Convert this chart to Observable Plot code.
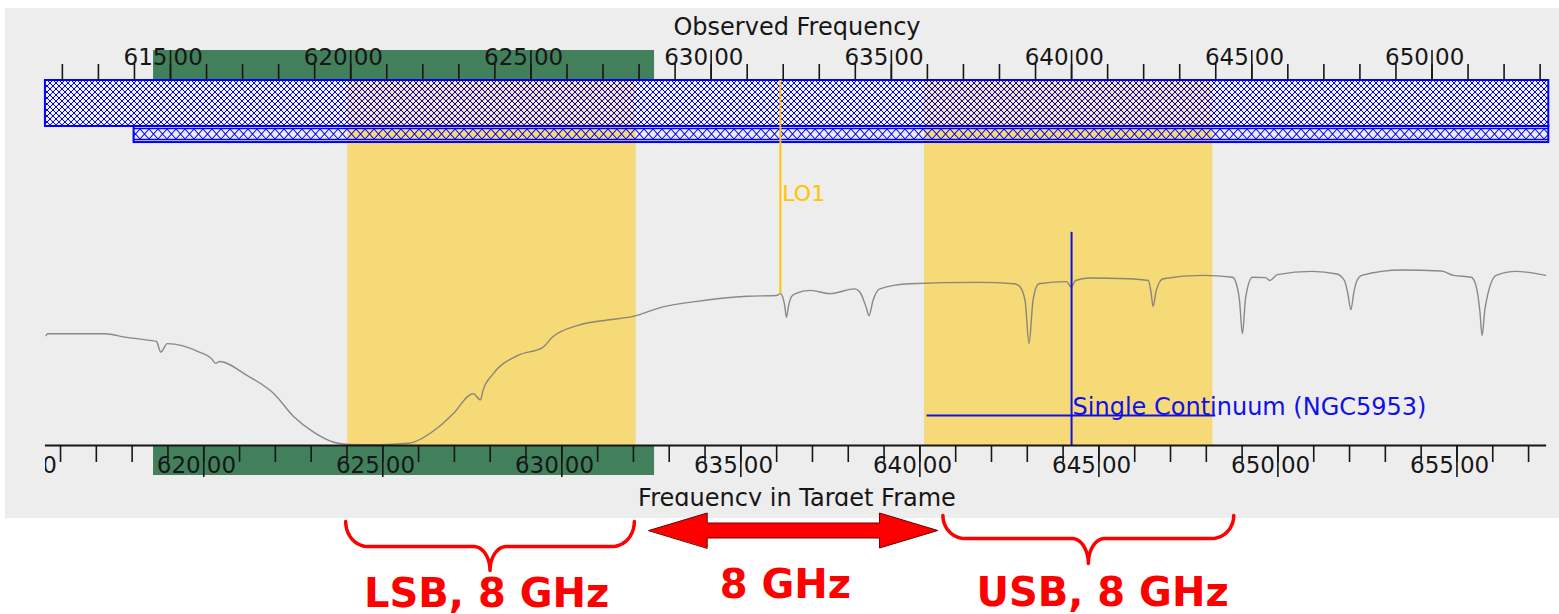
<!DOCTYPE html>
<html>
<head>
<meta charset="utf-8">
<script src="https://cdn.jsdelivr.net/npm/d3@7"></script>
<script src="https://cdn.jsdelivr.net/npm/@observablehq/plot@0.6"></script>
<style>
html, body { margin: 0; padding: 0; background: #ffffff; }
body { width: 1559px; height: 614px; overflow: hidden; position: relative; }
#panel { position: absolute; left: 5px; top: 8px; width: 1554px; height: 510px; background: #ededed; }
#notes { position: absolute; left: 0; top: 518px; width: 1559px; height: 96px; }
#panel svg, #notes svg { display: block; overflow: visible; }
</style>
</head>
<body>
<div id="panel"></div>
<div id="notes"></div>
<script>
// ---------------- data ----------------
// atmospheric transmission vs observed frequency (GHz)
const freqGHz = [611.55, 611.59, 613.18, 613.73, 614.43, 614.61, 614.73, 614.91, 615.80, 616.14,
  616.25, 616.36, 617.12, 617.87, 618.43, 618.98, 619.53, 619.95, 620.83, 621.60,
  622.43, 622.84, 623.40, 623.60, 623.67, 623.95, 624.64, 625.33, 625.60, 626.30,
  627.13, 627.81, 628.64, 629.61, 630.99, 631.81, 631.93, 631.98, 632.04, 632.09,
  632.15, 632.23, 632.34, 632.75, 633.30, 633.99, 634.13, 634.30, 634.38, 634.49,
  634.68, 635.51, 637.44, 638.40, 638.54, 638.71, 638.82, 638.93, 639.09, 639.86,
  639.99, 640.11, 640.47, 641.57, 642.13, 642.21, 642.26, 642.35, 642.54, 643.64,
  644.47, 644.54, 644.66, 644.74, 644.83, 645.02, 645.38, 645.50, 645.71, 646.67,
  647.36, 647.57, 647.66, 647.75, 647.83, 647.92, 648.05, 649.16, 650.26, 650.60,
  651.09, 651.22, 651.33, 651.39, 651.47, 651.78, 652.33, 653.15];
const transmission = [0.301, 0.306, 0.306, 0.297, 0.288, 0.285, 0.256, 0.279, 0.256, 0.238,
  0.225, 0.230, 0.192, 0.142, 0.078, 0.036, 0.009, 0.003, 0.002, 0.006,
  0.050, 0.087, 0.142, 0.125, 0.151, 0.196, 0.247, 0.269, 0.297, 0.329,
  0.344, 0.353, 0.379, 0.395, 0.409, 0.411, 0.416, 0.408, 0.384, 0.351,
  0.384, 0.408, 0.416, 0.425, 0.416, 0.429, 0.420, 0.379, 0.356, 0.397,
  0.429, 0.443, 0.447, 0.443, 0.438, 0.397, 0.279, 0.397, 0.443, 0.449,
  0.434, 0.452, 0.459, 0.457, 0.452, 0.416, 0.381, 0.425, 0.457, 0.466,
  0.461, 0.452, 0.397, 0.306, 0.406, 0.461, 0.460, 0.452, 0.468, 0.477,
  0.470, 0.452, 0.419, 0.372, 0.419, 0.452, 0.466, 0.481, 0.478, 0.466,
  0.461, 0.438, 0.366, 0.301, 0.375, 0.466, 0.477, 0.466];

const loGHz = 631.92;
const sidebandNames = ["LSB", "USB"];
const sidebandStartGHz = [619.92, 635.92];
const sidebandEndGHz = [627.92, 643.92];

const receiverStartGHz = 614.53;
const receiverEndGHz = 628.43;

const coverageStartGHz = [611.53, 613.99];
const coverageEndGHz = [653.24, 653.24];

const continuumGHz = 640.0;
const continuumLabel = "Single Continuum (NGC5953)";
const continuumMarkerTop = 0.584;
const continuumBandGHz = [635.99, 644.0];
const continuumBarLevel = 0.082;

const dopplerFactor = 1.00662; // target-frame / observed

const topMajorGHz = [615, 620, 625, 630, 635, 640, 645, 650];
const topMinorGHz = d3.range(612, 654);
const bottomMajorGHz = [615, 620, 625, 630, 635, 640, 645, 650, 655];
const bottomMinorGHz = d3.range(616, 658);

const annotationLabels = ["LSB, 8 GHz", "8 GHz", "USB, 8 GHz"];
const annotationLabelGHz = [623.77, 632.06, 640.86];
const braceStartGHz = [619.86, 636.43];
const braceEndGHz = [627.87, 644.50];
const gapArrowStartGHz = 628.27;
const gapArrowEndGHz = 636.29;

// ---------------- styles / layout ----------------
const ink = "#161616", green = "#42805c", yellow = "#f6da78", blue = "#0000ff";
const goldLO = "#ffc400", contBlue = "#1010e8", red = "#ff0000";
const font = "'DejaVu Sans', sans-serif";
// vertical layout levels, in transmission units (0 = bottom axis, 1 = top of plot area)
const L = {
  topMinor: 1.0438, topMajor: 1.0822, topLabel: 1.0425,
  band1Bottom: 0.874, band2Bottom: 0.830,
  botMinor: -0.0466, botMajor: -0.0877, botLabel: -0.0767, botGreen: -0.0822,
  loBottom: 0.416, loLabel: 0.671
};

const spectrum = freqGHz.map((f, i) => ({f, t: transmission[i]}));
const sidebands = sidebandNames.map((n, i) => ({n, x1: sidebandStartGHz[i], x2: sidebandEndGHz[i]}));
const receiver = [{x1: receiverStartGHz, x2: receiverEndGHz}];
const cov1 = [{x1: coverageStartGHz[0], x2: coverageEndGHz[0]}];
const cov2 = [{x1: coverageStartGHz[1], x2: coverageEndGHz[1]}];
const toObs = d => d / dopplerFactor;

const main = Plot.plot({
  width: 1554, height: 510,
  marginLeft: 40, marginRight: 11, marginTop: 0, marginBottom: 12,
  x: {domain: [615, 650], range: [165, 1426.5], axis: null},
  y: {domain: [0, 1], range: [437, 72], axis: null},
  style: {background: "transparent", fontFamily: font, overflow: "visible"},
  marks: [
    Plot.rect(receiver, {x1: "x1", x2: "x2", y1: 1, y2: L.topMajor, fill: green}),
    Plot.rect(receiver, {x1: "x1", x2: "x2", y1: L.botGreen, y2: 0, fill: green}),
    Plot.rect(sidebands, {x1: "x1", x2: "x2", y1: 0, y2: 1, fill: yellow}),
    Plot.rect(cov1, {x1: "x1", x2: "x2", y1: L.band1Bottom, y2: 1, fill: "url(#hatchA)", stroke: blue, strokeWidth: 2}),
    Plot.rect(cov2, {x1: "x1", x2: "x2", y1: L.band2Bottom, y2: L.band1Bottom, fill: "url(#hatchB)", stroke: blue, strokeWidth: 2}),
    Plot.line(spectrum, {x: "f", y: "t", stroke: "#777777", strokeWidth: 1.4, strokeOpacity: 0.85, curve: "monotone-x"}),
    Plot.ruleX([loGHz], {x: d => d, y1: L.loBottom, y2: 1, stroke: goldLO, strokeWidth: 2}),
    Plot.text(["LO1"], {x: loGHz, y: L.loLabel, text: d => d, textAnchor: "start", lineAnchor: "bottom", dx: 2, fontSize: 22, fill: goldLO}),
    Plot.ruleX([continuumGHz], {x: d => d, y1: 0, y2: continuumMarkerTop, stroke: contBlue, strokeWidth: 2}),
    Plot.ruleY([continuumBarLevel], {y: d => d, x1: continuumBandGHz[0], x2: continuumBandGHz[1], stroke: contBlue, strokeWidth: 2}),
    Plot.text([continuumLabel], {x: continuumGHz, y: continuumBarLevel, text: d => d, textAnchor: "start", lineAnchor: "bottom", dx: 1, dy: -1, fontSize: 24, fill: contBlue}),
    // bottom axis line
    Plot.ruleY([0], {y: d => d, x1: coverageStartGHz[0], x2: 653.18, stroke: ink, strokeWidth: 2}),
    // top axis (observed frequency)
    Plot.ruleX(topMinorGHz, {x: d => d, y1: 1, y2: L.topMinor, stroke: ink, strokeWidth: 1.6}),
    Plot.ruleX(topMajorGHz, {x: d => d, y1: 1, y2: L.topMajor, stroke: ink, strokeWidth: 1.6}),
    Plot.text(topMajorGHz, {x: d => d, y: L.topLabel, text: d => String(d), textAnchor: "end", lineAnchor: "bottom", dx: -3, fontSize: 23, fill: ink}),
    Plot.text(topMajorGHz, {x: d => d, y: L.topLabel, text: () => "00", textAnchor: "start", lineAnchor: "bottom", dx: 3, fontSize: 23, fill: ink}),
    // bottom axis (frequency in target frame)
    Plot.ruleX(bottomMinorGHz, {x: toObs, y1: L.botMinor, y2: 0, stroke: ink, strokeWidth: 1.6, clip: true}),
    Plot.ruleX(bottomMajorGHz, {x: toObs, y1: L.botMajor, y2: 0, stroke: ink, strokeWidth: 1.6, clip: true}),
    Plot.text(bottomMajorGHz, {x: toObs, y: L.botLabel, text: d => String(d), textAnchor: "end", lineAnchor: "bottom", dx: -3, fontSize: 23, fill: ink, clip: true}),
    Plot.text(bottomMajorGHz, {x: toObs, y: L.botLabel, text: () => "00", textAnchor: "start", lineAnchor: "bottom", dx: 3, fontSize: 23, fill: ink, clip: true}),
    // axis titles
    Plot.text(["Observed Frequency"], {frameAnchor: "top", text: d => d, lineAnchor: "bottom", dy: 26, fontSize: 24, fill: ink}),
    Plot.text(["Frequency in Target Frame"], {frameAnchor: "bottom", text: d => d, lineAnchor: "bottom", dy: -1, fontSize: 24, fill: ink, clip: true})
  ]
});

// hatch patterns for the coverage bands
const ns = "http://www.w3.org/2000/svg";
const defs = document.createElementNS(ns, "defs");
defs.innerHTML =
  '<pattern id="hatchA" patternUnits="userSpaceOnUse" x="0" y="72" width="6" height="6">' +
  '<path d="M0,0L6,6M6,0L0,6" stroke="#0000ff" stroke-width="1.0" fill="none"/>' +
  '<rect x="2.1" y="-0.9" width="1.8" height="1.8" fill="#ffffff" fill-opacity="0.75"/>' +
  '<rect x="2.1" y="5.1" width="1.8" height="1.8" fill="#ffffff" fill-opacity="0.75"/>' +
  '<rect x="-0.9" y="2.1" width="1.8" height="1.8" fill="#ffffff" fill-opacity="0.75"/>' +
  '<rect x="5.1" y="2.1" width="1.8" height="1.8" fill="#ffffff" fill-opacity="0.75"/>' +
  '</pattern>' +
  '<pattern id="hatchB" patternUnits="userSpaceOnUse" x="0" y="118" width="9" height="16">' +
  '<path d="M0,3L9,13M9,3L0,13" stroke="#0000ff" stroke-width="1.1" fill="none"/>' +
  '<path d="M0,2.5H9M0,13.5H9" stroke="#0000ff" stroke-width="1.3" fill="none"/>' +
  '</pattern>';
main.insertBefore(defs, main.firstChild);
document.getElementById("panel").appendChild(main);

// ---------------- red annotations below the panel ----------------
const braceShape = [{top: 3, bar: 28, tip: 52}, {top: -3, bar: 20, tip: 45}];
const bracePts = [];
const rOuter = 0.61, rInner = 0.45, steps = 10;
braceStartGHz.forEach((x1, k) => {
  const x2 = braceEndGHz[k], xc = (x1 + x2) / 2, s = braceShape[k];
  const pts = [];
  for (let j = 0; j <= steps; j++) { const a = j / steps * Math.PI / 2; pts.push([x1 + rOuter * (1 - Math.cos(a)), s.top + (s.bar - s.top) * Math.sin(a)]); }
  for (let j = 0; j <= steps; j++) { const a = j / steps * Math.PI / 2; pts.push([xc - rInner + rInner * Math.sin(a), s.bar + (s.tip - s.bar) * (1 - Math.cos(a))]); }
  for (let j = steps; j >= 0; j--) { const a = j / steps * Math.PI / 2; pts.push([xc + rInner - rInner * Math.sin(a), s.bar + (s.tip - s.bar) * (1 - Math.cos(a))]); }
  for (let j = steps; j >= 0; j--) { const a = j / steps * Math.PI / 2; pts.push([x2 - rOuter * (1 - Math.cos(a)), s.top + (s.bar - s.top) * Math.sin(a)]); }
  pts.forEach(([x, y]) => bracePts.push({x, y, z: k}));
});
const head = 1.62, yc = 12, hh = 17.5, sh = 7.5;
const arrowPts = [
  [gapArrowStartGHz, yc], [gapArrowStartGHz + head, yc - hh], [gapArrowStartGHz + head, yc - sh],
  [gapArrowEndGHz - head, yc - sh], [gapArrowEndGHz - head, yc - hh], [gapArrowEndGHz, yc],
  [gapArrowEndGHz - head, yc + hh], [gapArrowEndGHz - head, yc + sh], [gapArrowStartGHz + head, yc + sh],
  [gapArrowStartGHz + head, yc + hh]
].map(([x, y]) => ({x, y}));
const labelBase = [88, 79, 87];

const notes = Plot.plot({
  width: 1559, height: 96, margin: 0,
  x: {domain: [615, 650], range: [170, 1431.5], axis: null},
  y: {domain: [0, 96], range: [0, 96], axis: null},
  style: {background: "transparent", overflow: "visible"},
  marks: [
    Plot.line(bracePts, {x: "x", y: "y", z: "z", stroke: red, strokeWidth: 3.5, strokeLinecap: "round", strokeLinejoin: "round"}),
    Plot.line(arrowPts, {x: "x", y: "y", fill: red, stroke: "#6a0000", strokeWidth: 1, curve: "linear-closed"}),
    Plot.text(annotationLabels, {x: (d, i) => annotationLabelGHz[i], y: (d, i) => labelBase[i], text: d => d,
      lineAnchor: "bottom", fontSize: 40, fontWeight: "bold", fill: red,
      fontFamily: "'Comic Sans MS', 'DejaVu Sans', sans-serif"})
  ]
});
document.getElementById("notes").appendChild(notes);
</script>
</body>
</html>
